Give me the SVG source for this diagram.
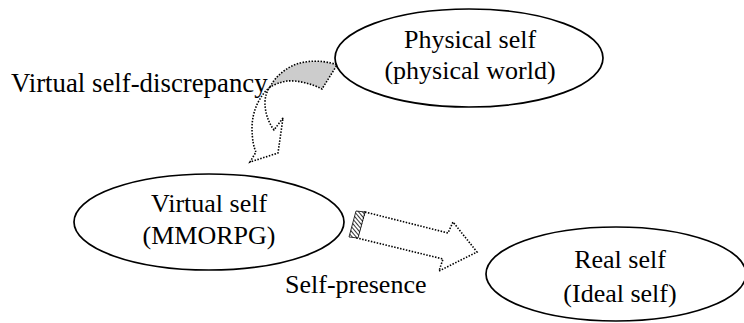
<svg xmlns="http://www.w3.org/2000/svg" width="744" height="323" viewBox="0 0 744 323">
<defs>
<style>
.node ellipse{fill:#fff;stroke:#000;stroke-width:1.7}
.t{font-family:"Liberation Serif","Times New Roman",serif;font-size:26px;fill:#000}
.c{text-anchor:middle}
.dot{stroke:#000;stroke-width:1.6;stroke-dasharray:1.5 1.5;stroke-linejoin:miter}
</style>
<pattern id="hatch" width="3" height="3" patternUnits="userSpaceOnUse" patternTransform="rotate(-40)">
<rect width="3" height="3" fill="#fff"/>
<line x1="0" y1="0" x2="0" y2="3" stroke="#000" stroke-width="1.6"/>
</pattern>
</defs>
<rect width="744" height="323" fill="#fff"/>
<g id="connectors">
<g id="discrepancy-arrow">
<path class="dot" fill="#fff" d="M270,87 C259,96 252,112 252,128 C252,140 254,148 256,152 L250,162 L278,153 L283,118 L274,130 C268,122 265,112 265,103 C265,96 267,91 270,87 Z"/>
<path class="dot" fill="#cccccc" d="M270,87 C276,75 290,64 305,62 C318,60 330,62 337,65 L322,89 C312,84 298,80 287,81 C280,82 274,85 270,87 Z"/>
</g>
<g id="presence-arrow">
<path class="dot" fill="#fff" d="M365,212 L448,233 L453,222 L477,252 L439,271 L443,259 L357,238 Z"/>
<path fill="url(#hatch)" stroke="#000" stroke-width="0.8" d="M356,211 L365,212 L358,238 L349,237 Z"/>
</g>
</g>
<g id="physical-self" class="node">
<ellipse cx="469" cy="58" rx="134" ry="49"/>
<text class="t c" x="470" y="48">Physical self</text>
<text class="t c" x="470" y="79">(physical world)</text>
</g>
<g id="virtual-self" class="node">
<ellipse cx="209" cy="222" rx="135" ry="48"/>
<text class="t c" x="209" y="212">Virtual self</text>
<text class="t c" x="209" y="244">(MMORPG)</text>
</g>
<g id="real-self" class="node">
<ellipse cx="616" cy="274" rx="130" ry="47"/>
<text class="t c" x="620" y="268">Real self</text>
<text class="t c" x="620" y="302">(Ideal self)</text>
</g>
<g id="labels">
<text class="t" x="11" y="92" style="font-size:26.8px">Virtual self-discrepancy</text>
<text class="t" x="285" y="293">Self-presence</text>
</g>
</svg>
